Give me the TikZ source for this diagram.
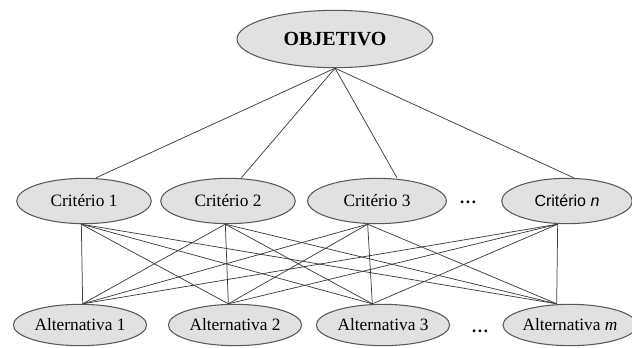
\documentclass[tikz,border=0pt]{standalone}
\usepackage{fontspec}
\setmainfont{Liberation Serif}
\newfontfamily\arialfont{Liberation Sans}
\usepackage{tikz}
\usetikzlibrary{shapes.geometric}
\definecolor{bubble}{HTML}{E1E1E1}
\definecolor{rim}{HTML}{5A5A5A}
\definecolor{wire}{HTML}{3C3C3C}

\begin{document}
\begin{tikzpicture}[x=0.75pt,y=-0.75pt,font=\fontsize{13}{15}\selectfont,
  goal/.style={ellipse,fill=bubble,draw=rim,line width=.8pt,inner sep=0pt,
    minimum width=147pt,minimum height=43pt,font=\fontsize{15}{17}\selectfont\bfseries},
  crit/.style={ellipse,fill=bubble,draw=rim,line width=.8pt,inner sep=0pt,
    minimum width=101pt,minimum height=34pt},
  alt/.style={ellipse,fill=bubble,draw=rim,line width=.8pt,inner sep=0pt,
    minimum width=100pt,minimum height=31pt},
  link/.style={wire,line width=.55pt},
  etc/.style={font=\fontsize{13}{15}\selectfont\bfseries}]
\useasboundingbox (0,0) rectangle (632,347);
% goal
\node[goal] (obj) at (335,39) {OBJETIVO};
% criteria row
\node[crit] (c1) at (84,201) {Critério 1};
\node[crit] (c2) at (228,201) {Critério 2};
\node[crit,minimum width=104pt] (c3) at (377,201) {Critério 3};
\node[etc] (cdots) at (468,202) {…};
\node[crit,minimum width=98pt] (cn) at (567,201) {\arialfont\fontsize{12}{14}\selectfont Critério \textit{n}};
% alternatives row
\node[alt] (a1) at (80,325) {Alternativa 1};
\node[alt] (a2) at (235,325) {Alternativa 2};
\node[alt] (a3) at (383,325) {Alternativa 3};
\node[etc] (adots) at (480,331) {…};
\node[alt,minimum width=95pt] (am) at (570,325) {Alternativa \textit{m}};
% contact points
\coordinate (c1t) at ([xshift=9]c1.north);
\coordinate (c2t) at ([xshift=10]c2.north);
\coordinate (c3t) at ([xshift=15]c3.north);
\coordinate (cnt) at ([xshift=5]cn.north);
\coordinate (c1b) at ([xshift=-2]c1.south);
\coordinate (c2b) at ([xshift=-2]c2.south);
\coordinate (c3b) at ([xshift=-7]c3.south);
\coordinate (cnb) at ([xshift=-7]cn.south);
\coordinate (a1t) at ([xshift=2]a1.north);
\coordinate (a2t) at ([xshift=-5]a2.north);
\coordinate (a3t) at ([xshift=-8]a3.north);
\coordinate (amt) at ([xshift=-10]am.north);
% goal to criteria
\foreach \c in {c1t,c2t,c3t,cnt}{\draw[link] (obj.south) -- (\c);}
% criteria to alternatives
\foreach \c in {c1b,c2b,c3b,cnb}{
  \foreach \a in {a1t,a2t,a3t,amt}{\draw[link] (\c) -- (\a);}}
\end{tikzpicture}
\end{document}
